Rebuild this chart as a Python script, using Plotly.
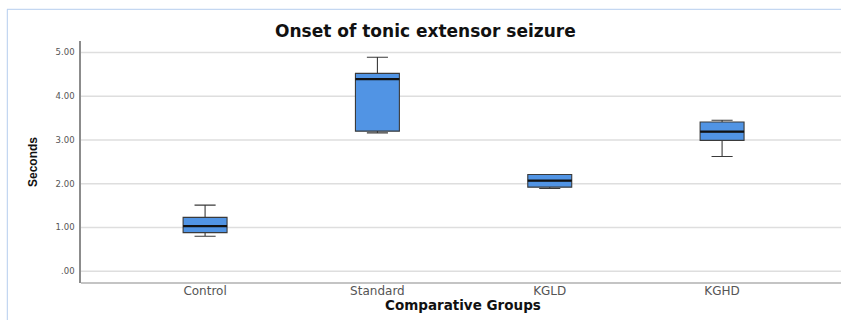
import plotly.graph_objects as go

# Group summary statistics (seconds)
groups = ["Control", "Standard", "KGLD", "KGHD"]
whisker_low = [0.80, 3.16, 1.89, 2.62]
quartile_1 = [0.88, 3.20, 1.92, 2.99]
medians = [1.03, 4.39, 2.07, 3.19]
quartile_3 = [1.23, 4.52, 2.21, 3.41]
whisker_high = [1.51, 4.89, 2.21, 3.45]

y_ticks = [0, 1, 2, 3, 4, 5]
y_tick_text = [".00", "1.00", "2.00", "3.00", "4.00", "5.00"]

BOX_W = 0.255
positions = list(range(len(groups)))

fig = go.Figure()
fig.add_trace(go.Box(
    x=positions,
    q1=quartile_1,
    median=medians,
    q3=quartile_3,
    lowerfence=whisker_low,
    upperfence=whisker_high,
    width=BOX_W,
    whiskerwidth=0.48,
    fillcolor="#5194E4",
    line=dict(color="#3a3a3a", width=1.1),
    boxpoints=False,
    hoverinfo="skip",
    showlegend=False,
))

# Heavier median bars on top of each box
mx, my = [], []
for p, m in zip(positions, medians):
    mx += [p - BOX_W / 2, p + BOX_W / 2, None]
    my += [m, m, None]
fig.add_trace(go.Scatter(
    x=mx, y=my, mode="lines",
    line=dict(color="#111111", width=2.2),
    hoverinfo="skip", showlegend=False,
))

L, R, T, B = 81, 0, 41, 37
W, H = 841, 320
pw, ph = W - L - R, H - T - B

def px(xp):
    return (xp - L) / pw

def py(yp):
    return (H - B - yp) / ph

RIGHT_END = px(W + 10)

# Horizontal grid running across the whole plotting area
grid_shapes = [
    dict(type="line", xref="paper", yref="y", layer="below",
         x0=0, x1=RIGHT_END, y0=v, y1=v,
         line=dict(color="#dedede", width=1.5))
    for v in y_ticks
]

frame_shapes = [
    # category axis base line
    dict(type="line", xref="paper", yref="paper", layer="above",
         x0=0, x1=RIGHT_END, y0=0, y1=0,
         line=dict(color="#b0b0b0", width=1.5)),
    # chart frame edges
    dict(type="line", xref="paper", yref="paper",
         x0=px(7), x1=RIGHT_END, y0=py(9.3), y1=py(9.3),
         line=dict(color="#b6cdee", width=1)),
    dict(type="line", xref="paper", yref="paper",
         x0=px(7.3), x1=px(7.3), y0=py(9.3), y1=py(H + 5),
         line=dict(color="#b6cdee", width=1)),
]

fig.update_layout(
    template="none",
    width=W, height=H,
    margin=dict(l=L, r=R, t=T, b=B, pad=0, autoexpand=False),
    paper_bgcolor="white",
    plot_bgcolor="white",
    showlegend=False,
    font=dict(family="DejaVu Sans, Arial, sans-serif", color="#444"),
    xaxis=dict(
        automargin=False,
        range=[-0.72, 3.69],
        tickvals=positions,
        ticktext=groups,
        tickfont=dict(size=12, color="#555"),
        ticklabelstandoff=-1,
        showgrid=False,
        zeroline=False,
        showline=False,
        ticks="", ticklen=0,
        fixedrange=True,
    ),
    yaxis=dict(
        automargin=False,
        range=[-0.27, 5.26],
        tickvals=y_ticks,
        ticktext=y_tick_text,
        tickfont=dict(size=8.5, color="#555"),
        showgrid=False,
        zeroline=False,
        showline=True, linecolor="#8c8c8c", linewidth=1.5,
        ticks="outside", ticklen=3, tickcolor="rgba(0,0,0,0)",
        fixedrange=True,
    ),
    annotations=[
        dict(text="<b>Onset of tonic extensor seizure</b>",
             xref="paper", yref="paper", x=px(425), y=py(31),
             showarrow=False, xanchor="center", yanchor="middle",
             font=dict(size=17, color="#111")),
        dict(text="<b>Comparative Groups</b>",
             xref="paper", yref="paper", x=px(463), y=py(305),
             showarrow=False, xanchor="center", yanchor="middle",
             font=dict(size=13.5, color="#111")),
        dict(text="<b>Seconds</b>",
             xref="paper", yref="paper", x=px(33), y=py(162),
             showarrow=False, xanchor="center", yanchor="middle",
             textangle=-90,
             font=dict(family="Liberation Sans Narrow, Liberation Sans, Arial, sans-serif",
                       size=12, color="#111")),
    ],
    shapes=grid_shapes + frame_shapes,
)

fig.write_html("out.html")
